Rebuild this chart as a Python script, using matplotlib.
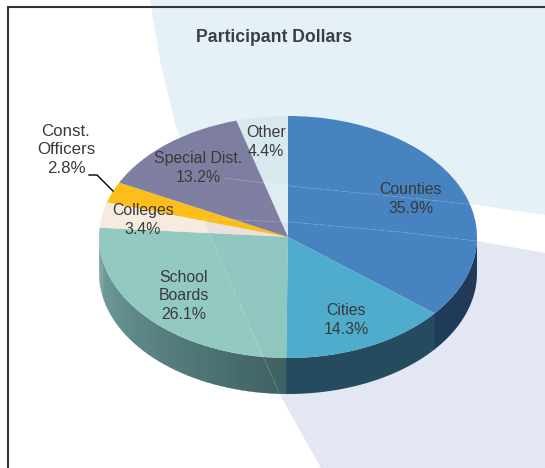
import numpy as np
import matplotlib
matplotlib.use('Agg')
import matplotlib.pyplot as plt
from matplotlib.patches import Polygon
from matplotlib.colors import to_rgb

plt.rcParams['font.family'] = ['Liberation Sans', 'DejaVu Sans']

# Values go clockwise from 12 o'clock
names = ['Counties', 'Cities', 'School\nBoards', 'Colleges', 'Const.\nOfficers', 'Special Dist.', 'Other']
shares = [35.9, 14.3, 26.1, 3.4, 2.8, 13.2, 4.4]
top_colors = ['#4381BF', '#4CABCD', '#86C3BB', '#EFDFCB', '#FCBD16', '#7C7C9F', '#D2E6EA']
top_alpha = [0.98, 0.98, 0.9, 0.62, 0.98, 0.98, 0.72]
wall_left = ['#1F3B57', '#244C5E', '#74A3A0']
wall_right = ['#1F3B57', '#244C5E', '#3F6163']
wall_strips = [1, 1, 40]
label_pos = [(411, 199), (346, 320), (184, 296), (143, 220), (66, 150), (198, 168), (266, 142)]
label_size = [11.4, 11.4, 11.4, 11.4, 12.2, 11.4, 11.4]

W, H = 545, 468
cx, cy, rx, ry, depth = 288, 237, 189, 121, 36

fig = plt.figure(figsize=(W / 100, H / 100), dpi=100)

# pixel axes for the backdrop
bg = fig.add_axes([0, 0, 1, 1])
bg.set_xlim(0, W)
bg.set_ylim(H, 0)
bg.axis('off')

blue_edge = [(150, 0), (160, 60), (176, 128), (192, 160), (225, 178), (290, 186), (400, 197), (477, 205), (545, 215), (545, 0)]
lav_edge = [(203, 219), (290, 222), (400, 232), (477, 241), (545, 253), (545, 468), (321, 468), (280, 395)]
bg.add_patch(Polygon(blue_edge, closed=True, fc='#E5F1F7', ec='none'))
bg.add_patch(Polygon(lav_edge, closed=True, fc='#E3E7F3', ec='none'))

# frame, open on the right and bottom like the source crop
bg.plot([8, 8, 545], [468, 7, 7], color='#333333', lw=1.5, solid_joinstyle='miter')

# pie axes, stretched so the circle becomes the tilted ellipse
ax = fig.add_axes([0, 0, 1, 1], facecolor='none')
angles = np.concatenate([[0], np.cumsum(shares)]) / np.sum(shares) * 360


def rim(theta, drop=0):
    t = np.radians(theta)
    return np.sin(t), np.cos(t) - drop / ry


# side wall, split in strips to get the shading
for i in range(3):
    a0, a1 = max(angles[i], 90), min(angles[i + 1], 270)
    if a1 <= a0:
        continue
    c0, c1 = np.array(to_rgb(wall_right[i])), np.array(to_rgb(wall_left[i]))
    steps = np.linspace(a0, a1, wall_strips[i] + 1)
    for j in range(len(steps) - 1):
        th = np.linspace(steps[j], steps[j + 1] + 0.4, 40)
        xs, ys = rim(th)
        xd, yd = rim(th[::-1], depth)
        f = j / max(len(steps) - 2, 1)
        ax.add_patch(Polygon(np.c_[np.r_[xs, xd], np.r_[ys, yd]], closed=True,
                             fc=c0 + (c1 - c0) * f, ec='none'))

wedges, _ = ax.pie(shares, colors=top_colors, startangle=90, counterclock=False, radius=1)
for w, al in zip(wedges, top_alpha):
    w.set_alpha(al)

ax.set_aspect('auto')
ax.set_xlim(-cx / rx, (W - cx) / rx)
ax.set_ylim((cy - H) / ry, cy / ry)
ax.axis('off')

# labels on top of everything
for name, val, (x, y), fs in zip(names, shares, label_pos, label_size):
    fig.text(x / W, 1 - y / H, f'{name}\n{val:.1f}%', ha='center', va='center', fontsize=fs,
             color='#3A3A3A', linespacing=1.27)

fig.text(274 / W, 1 - 38 / H, 'Participant Dollars', ha='center', va='center',
         fontsize=12.7, fontweight='bold', color='#3A3F44')

top = fig.add_axes([0, 0, 1, 1], facecolor='none')
top.set_xlim(0, W)
top.set_ylim(H, 0)
top.axis('off')

# backdrop edges still show faintly through the pie
for xs, ys in [([225, 290, 400, 477], [178, 186, 197, 205]),
               ([203, 290, 400, 477], [219, 222, 232, 241]),
               ([203, 280], [219, 395])]:
    top.plot(xs, ys, color='white', lw=0.5, alpha=0.3, dashes=(10, 2))

# leader for Const. Officers
top.plot([89, 97, 113], [175, 175, 191], color='black', lw=1)

fig.savefig('out.png', dpi=100)
